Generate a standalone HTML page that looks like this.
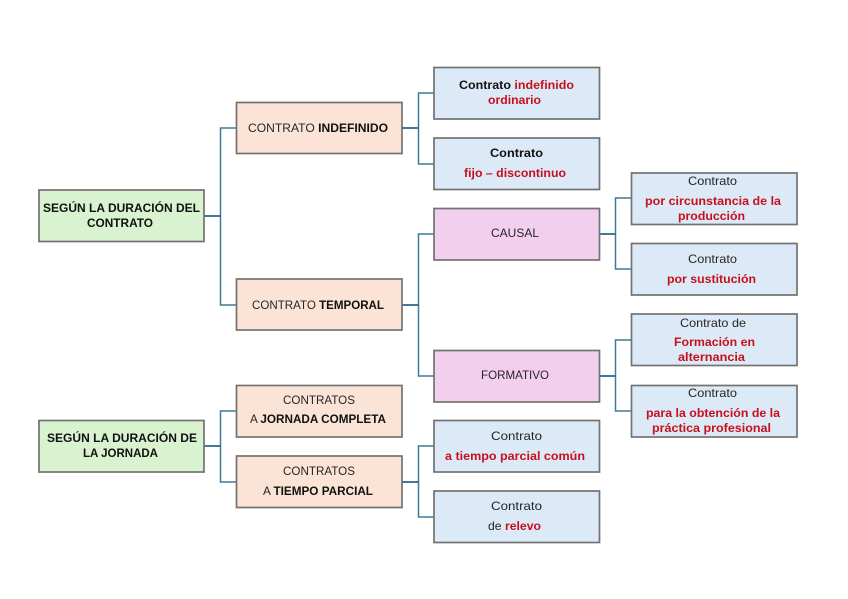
<!DOCTYPE html>
<html lang="es">
<head>
<meta charset="utf-8">
<title>Contratos</title>
<style>
html,body{margin:0;padding:0;background:#fff;width:848px;height:599px;overflow:hidden}
svg{display:block;filter:blur(0.35px)}
text{font-family:"Liberation Sans",sans-serif;font-size:12px;fill:#262626}
.b{font-weight:bold;fill:#111}
.r{font-weight:bold;fill:#c8101c}
.box{stroke:#727272;stroke-width:1.7}
.g{fill:#d9f2d0}.p{fill:#fbe3d6}.u{fill:#dce9f6}.m{fill:#f2ceef}
.c{fill:none;stroke:#3f7a99;stroke-width:1.5}
.s{fill:none;stroke:#27658a;stroke-width:1.7}
</style>
</head>
<body>
<svg width="848" height="599" viewBox="0 0 848 599" xmlns="http://www.w3.org/2000/svg">
<path class="c" d="M236 128H220.500V305H236"/>
<path class="c" d="M434 93H418.500V164H434"/>
<path class="c" d="M434 234H418.500V376H434"/>
<path class="c" d="M631 198H615.500V269H631"/>
<path class="c" d="M631 340H615.500V411H631"/>
<path class="c" d="M236 411H220.500V482H236"/>
<path class="c" d="M434 446H418.500V517H434"/>
<path class="s" d="M204 216H220.500M402 128H418.500M402 305H418.500M599 234H615.500M599 376H615.500M204 446H220.500M402 482H418.500"/>

<rect class="box g" x="39" y="190" width="165" height="51.500"/>
<rect class="box g" x="39" y="420.500" width="165" height="51.500"/>
<rect class="box p" x="236.500" y="102.500" width="165.500" height="51"/>
<rect class="box p" x="236.500" y="279" width="165.500" height="51"/>
<rect class="box p" x="236.500" y="385.500" width="165.500" height="51.500"/>
<rect class="box p" x="236.500" y="456" width="165.500" height="51.500"/>
<rect class="box u" x="434" y="67.500" width="165.500" height="51.500"/>
<rect class="box u" x="434" y="138" width="165.500" height="51.500"/>
<rect class="box m" x="434" y="208.500" width="165.500" height="51.500"/>
<rect class="box m" x="434" y="350.500" width="165.500" height="51.500"/>
<rect class="box u" x="434" y="420.500" width="165.500" height="51.500"/>
<rect class="box u" x="434" y="491" width="165.500" height="51.500"/>
<rect class="box u" x="631.500" y="173" width="165.500" height="51.500"/>
<rect class="box u" x="631.500" y="243.500" width="165.500" height="51.500"/>
<rect class="box u" x="631.500" y="314" width="165.500" height="51.500"/>
<rect class="box u" x="631.500" y="385.500" width="165.500" height="51.500"/>

<text class="b" x="43" y="212" textLength="157" lengthAdjust="spacingAndGlyphs">SEGÚN LA DURACIÓN DEL</text>
<text class="b" x="87" y="227" textLength="66" lengthAdjust="spacingAndGlyphs">CONTRATO</text>
<text class="b" x="47" y="442" textLength="150" lengthAdjust="spacingAndGlyphs">SEGÚN LA DURACIÓN DE</text>
<text class="b" x="83" y="457" textLength="75" lengthAdjust="spacingAndGlyphs">LA JORNADA</text>

<text x="248" y="132" textLength="140" lengthAdjust="spacingAndGlyphs">CONTRATO <tspan class="b">INDEFINIDO</tspan></text>
<text x="252" y="309" textLength="132" lengthAdjust="spacingAndGlyphs">CONTRATO <tspan class="b">TEMPORAL</tspan></text>
<text x="283" y="404" textLength="72" lengthAdjust="spacingAndGlyphs">CONTRATOS</text>
<text x="250" y="423" textLength="136" lengthAdjust="spacingAndGlyphs">A <tspan class="b">JORNADA COMPLETA</tspan></text>
<text x="283" y="475" textLength="72" lengthAdjust="spacingAndGlyphs">CONTRATOS</text>
<text x="263" y="495" textLength="110" lengthAdjust="spacingAndGlyphs">A <tspan class="b">TIEMPO PARCIAL</tspan></text>

<text class="b" x="459" y="89" textLength="115" lengthAdjust="spacingAndGlyphs">Contrato <tspan class="r">indefinido</tspan></text>
<text class="r" x="488" y="104" textLength="53" lengthAdjust="spacingAndGlyphs">ordinario</text>
<text class="b" x="490" y="157" textLength="53" lengthAdjust="spacingAndGlyphs">Contrato</text>
<text class="r" x="464" y="177" textLength="102" lengthAdjust="spacingAndGlyphs">fijo – discontinuo</text>
<text x="491" y="237" textLength="48" lengthAdjust="spacingAndGlyphs">CAUSAL</text>
<text x="481" y="379" textLength="68" lengthAdjust="spacingAndGlyphs">FORMATIVO</text>
<text x="491" y="440" textLength="51" lengthAdjust="spacingAndGlyphs">Contrato</text>
<text class="r" x="445" y="460" textLength="140" lengthAdjust="spacingAndGlyphs">a tiempo parcial común</text>
<text x="491" y="510" textLength="51" lengthAdjust="spacingAndGlyphs">Contrato</text>
<text x="488" y="530" textLength="53" lengthAdjust="spacingAndGlyphs">de <tspan class="r">relevo</tspan></text>

<text x="688" y="185" textLength="49" lengthAdjust="spacingAndGlyphs">Contrato</text>
<text class="r" x="645" y="205" textLength="136" lengthAdjust="spacingAndGlyphs">por circunstancia de la</text>
<text class="r" x="678" y="220" textLength="67" lengthAdjust="spacingAndGlyphs">producción</text>
<text x="688" y="263" textLength="49" lengthAdjust="spacingAndGlyphs">Contrato</text>
<text class="r" x="667" y="283" textLength="89" lengthAdjust="spacingAndGlyphs">por sustitución</text>
<text x="680" y="327" textLength="66" lengthAdjust="spacingAndGlyphs">Contrato de</text>
<text class="r" x="674" y="346" textLength="81" lengthAdjust="spacingAndGlyphs">Formación en</text>
<text class="r" x="678" y="361" textLength="67" lengthAdjust="spacingAndGlyphs">alternancia</text>
<text x="688" y="397" textLength="49" lengthAdjust="spacingAndGlyphs">Contrato</text>
<text class="r" x="646" y="417" textLength="134" lengthAdjust="spacingAndGlyphs">para la obtención de la</text>
<text class="r" x="652" y="432" textLength="119" lengthAdjust="spacingAndGlyphs">práctica profesional</text>
</svg>
</body>
</html>
